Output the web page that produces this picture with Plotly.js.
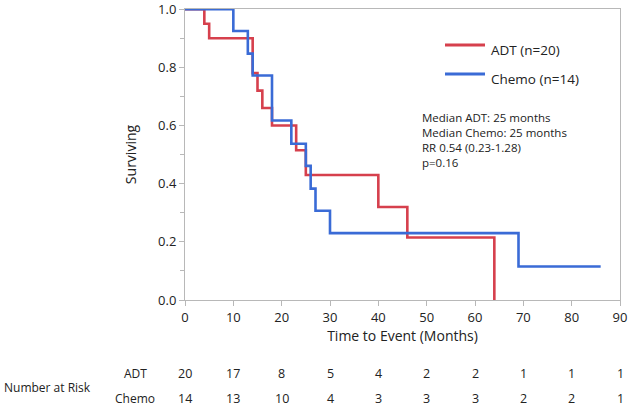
<!DOCTYPE html>
<html>
<head>
<meta charset="utf-8">
<script src="https://cdn.plot.ly/plotly-3.0.1.min.js"></script>
<style>html,body{margin:0;padding:0;background:#fff;}#chart{width:630px;height:406px;}</style>
</head>
<body>
<div id="chart"></div>
<script>
// Kaplan-Meier step data
const adtTime = [0, 4, 5, 14, 15, 16, 18, 23, 25, 40, 46, 64];
const adtSurv = [1, 0.95, 0.90, 0.78, 0.72, 0.66, 0.60, 0.515, 0.43, 0.32, 0.215, 0];
const chemoTime = [0, 10, 13, 14, 18, 22, 25, 26, 27, 30, 69, 86];
const chemoSurv = [1, 0.925, 0.847, 0.772, 0.617, 0.537, 0.461, 0.383, 0.307, 0.23, 0.115, 0.115];

const seriesNames = ["ADT (n=20)", "Chemo (n=14)"];
const statLines = ["Median ADT: 25 months", "Median Chemo: 25 months", "RR 0.54 (0.23-1.28)", "p=0.16"];

// Axis ticks
const xTicks = [0, 10, 20, 30, 40, 50, 60, 70, 80, 90];
const yTicks = [0, 0.2, 0.4, 0.6, 0.8, 1.0];
const yTickText = ["0.0", "0.2", "0.4", "0.6", "0.8", "1.0"];

// Number-at-risk table
const riskTimes = [0, 10, 20, 30, 40, 50, 60, 70, 80, 90];
const riskRowLabels = ["ADT", "Chemo"];
const riskADT = [20, 17, 8, 5, 4, 2, 2, 1, 1, 1];
const riskChemo = [14, 13, 10, 4, 3, 3, 3, 2, 2, 1];

const FONT = "Open Sans, Noto Sans, sans-serif";
const TXT = "#222";
const RED = "#d6404d";
const BLUE = "#3a6bd6";
const AX = "#b8b8b8";

// plot-area geometry (pixels)
const L = 185, R = 10, T = 9, B = 106, W = 630, H = 406;
const PW = W - L - R, PH = H - T - B;
const px = x => (x - L) / PW;
const py = y => (H - B - y) / PH;

const traces = [
  {x: adtTime, y: adtSurv, name: seriesNames[0], type: "scatter", mode: "lines",
   line: {shape: "hv", color: RED, width: 2.6}, showlegend: false, cliponaxis: false},
  {x: chemoTime, y: chemoSurv, name: seriesNames[1], type: "scatter", mode: "lines",
   line: {shape: "hv", color: BLUE, width: 2.6}, showlegend: false, cliponaxis: false}
];

const annotations = [];
const shapes = [];

// legend (drawn by hand to match 40px swatches)
const legY = [45, 74];
[RED, BLUE].forEach((c, i) => {
  shapes.push({type: "line", xref: "paper", yref: "paper", x0: px(445), x1: px(485), y0: py(legY[i]), y1: py(legY[i]),
    line: {color: c, width: 3}});
  annotations.push({xref: "paper", yref: "paper", x: px(489), y: py(legY[i] + 5), xanchor: "left", yanchor: "middle",
    showarrow: false, text: seriesNames[i], font: {family: FONT, size: 13.5, color: TXT}});
});

annotations.push({xref: "paper", yref: "paper", x: px(420), y: py(108), xanchor: "left", yanchor: "top",
  align: "left", showarrow: false, text: statLines.join("<br>"),
  font: {family: FONT, size: 11.5, color: TXT}});

const rowY = [373, 398];
annotations.push({xref: "paper", yref: "paper", x: px(2), y: py(387), xanchor: "left", yanchor: "middle",
  showarrow: false, text: "Number at Risk", font: {family: FONT, size: 12, color: TXT}});
riskRowLabels.forEach((lab, r) => {
  annotations.push({xref: "paper", yref: "paper", x: px(135), y: py(rowY[r]), xanchor: "center", yanchor: "middle",
    showarrow: false, text: lab, font: {family: FONT, size: 12, color: TXT}});
  const vals = r === 0 ? riskADT : riskChemo;
  vals.forEach((v, i) => {
    annotations.push({xref: "x", yref: "paper", x: riskTimes[i], y: py(rowY[r]), xanchor: "center", yanchor: "middle",
      showarrow: false, text: String(v), font: {family: FONT, size: 12.5, color: TXT}});
  });
});

const layout = {
  width: W, height: H,
  margin: {l: L, r: R, t: T, b: B, pad: 0},
  paper_bgcolor: "#fff", plot_bgcolor: "#fff",
  font: {family: FONT, color: TXT, size: 13},
  showlegend: false,
  xaxis: {range: [0, 90], tickvals: xTicks, showgrid: false, zeroline: false,
    showline: true, linecolor: AX, linewidth: 1, mirror: true,
    ticks: "outside", ticklen: 5, tickcolor: AX,
    tickfont: {size: 13, color: TXT},
    title: {text: "Time to Event (Months)", font: {size: 14, color: TXT}, standoff: 6}},
  yaxis: {range: [0, 1.0005], tickvals: yTicks, ticktext: yTickText, showgrid: false, zeroline: false,
    showline: true, linecolor: AX, linewidth: 1, mirror: true,
    ticks: "outside", ticklen: 5, tickcolor: AX, ticklabeloverflow: "allow",
    minor: {dtick: 0.1, ticks: "outside", ticklen: 4, tickcolor: AX, showgrid: false},
    tickfont: {size: 13, color: TXT},
    title: {text: "Surviving", font: {size: 14, color: TXT}, standoff: 18}},
  shapes: shapes,
  annotations: annotations
};

Plotly.newPlot("chart", traces, layout, {displayModeBar: false, staticPlot: true});
</script>
</body>
</html>
